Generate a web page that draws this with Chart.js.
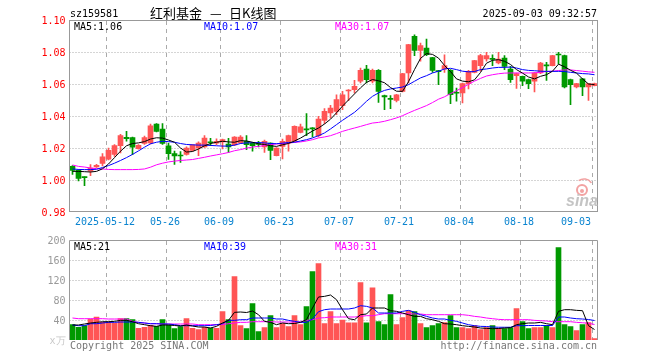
<!DOCTYPE html>
<html>
<head>
<meta charset="utf-8">
<script src="https://cdn.jsdelivr.net/npm/chart.js@4.4.0/dist/chart.umd.min.js"></script>
<style>
  html, body { margin: 0; padding: 0; background: #fff; }
  #wrap { position: relative; width: 660px; height: 360px; }
  #wrap canvas { position: absolute; left: 0; top: 0; }
</style>
</head>
<body>
<div id="wrap">
  <canvas id="kline" width="660" height="360"></canvas>
  <canvas id="vol" width="660" height="360"></canvas>
</div>
<script>
const dates = [
  '2025-04-29','2025-04-30','2025-05-06','2025-05-07','2025-05-08','2025-05-09','2025-05-12','2025-05-13','2025-05-14','2025-05-15',
  '2025-05-16','2025-05-19','2025-05-20','2025-05-21','2025-05-22','2025-05-23','2025-05-26','2025-05-27','2025-05-28','2025-05-29',
  '2025-05-30','2025-06-03','2025-06-04','2025-06-05','2025-06-06','2025-06-09','2025-06-10','2025-06-11','2025-06-12','2025-06-13',
  '2025-06-16','2025-06-17','2025-06-18','2025-06-19','2025-06-20','2025-06-23','2025-06-24','2025-06-25','2025-06-26','2025-06-27',
  '2025-06-30','2025-07-01','2025-07-02','2025-07-03','2025-07-04','2025-07-07','2025-07-08','2025-07-09','2025-07-10','2025-07-11',
  '2025-07-14','2025-07-15','2025-07-16','2025-07-17','2025-07-18','2025-07-21','2025-07-22','2025-07-23','2025-07-24','2025-07-25',
  '2025-07-28','2025-07-29','2025-07-30','2025-07-31','2025-08-01','2025-08-04','2025-08-05','2025-08-06','2025-08-07','2025-08-08',
  '2025-08-11','2025-08-12','2025-08-13','2025-08-14','2025-08-15','2025-08-18','2025-08-19','2025-08-20','2025-08-21','2025-08-22',
  '2025-08-25','2025-08-26','2025-08-27','2025-08-28','2025-08-29','2025-09-01','2025-09-02','2025-09-03'
];

const open = [
  1.0085,1.0060,1.0018,1.0055,1.0082,1.0103,1.0130,1.0160,1.0215,1.0266,
  1.0265,1.0196,1.0228,1.0232,1.0350,1.0318,1.0214,1.0165,1.0155,1.0160,
  1.0185,1.0200,1.0206,1.0238,1.0230,1.0238,1.0225,1.0220,1.0231,1.0241,
  1.0230,1.0226,1.0206,1.0230,1.0152,1.0210,1.0231,1.0242,1.0298,1.0317,
  1.0325,1.0277,1.0373,1.0420,1.0429,1.0465,1.0556,1.0565,1.0617,1.0694,
  1.0617,1.0685,1.0527,1.0508,1.0498,1.0554,1.0669,1.0898,1.0810,1.0825,
  1.0765,1.0680,1.0694,1.0685,1.0546,1.0544,1.0602,1.0673,1.0715,1.0756,
  1.0758,1.0731,1.0762,1.0694,1.0652,1.0648,1.0627,1.0617,1.0669,1.0717,
  1.0715,1.0785,1.0777,1.0627,1.0581,1.0633,1.0581,1.0590
];
const high = [
  1.0090,1.0065,1.0020,1.0096,1.0098,1.0165,1.0200,1.0222,1.0285,1.0304,
  1.0268,1.0222,1.0275,1.0350,1.0352,1.0352,1.0230,1.0180,1.0178,1.0207,
  1.0222,1.0238,1.0277,1.0260,1.0258,1.0255,1.0260,1.0272,1.0277,1.0277,
  1.0235,1.0242,1.0250,1.0233,1.0202,1.0256,1.0280,1.0338,1.0350,1.0415,
  1.0327,1.0398,1.0446,1.0467,1.0533,1.0554,1.0565,1.0623,1.0700,1.0717,
  1.0694,1.0690,1.0531,1.0527,1.0535,1.0667,1.0848,1.0908,1.0856,1.0881,
  1.0767,1.0685,1.0783,1.0690,1.0575,1.0606,1.0685,1.0748,1.0785,1.0798,
  1.0783,1.0798,1.0777,1.0710,1.0669,1.0650,1.0630,1.0671,1.0735,1.0735,
  1.0779,1.0798,1.0780,1.0630,1.0604,1.0635,1.0604,1.0605
];
const low = [
  1.0035,0.9994,0.9965,1.0027,1.0078,1.0088,1.0125,1.0148,1.0170,1.0243,
  1.0158,1.0193,1.0222,1.0225,1.0300,1.0222,1.0128,1.0098,1.0110,1.0155,
  1.0180,1.0152,1.0203,1.0215,1.0221,1.0194,1.0173,1.0215,1.0228,1.0190,
  1.0180,1.0206,1.0173,1.0127,1.0150,1.0131,1.0180,1.0240,1.0295,1.0277,
  1.0269,1.0270,1.0352,1.0388,1.0408,1.0440,1.0496,1.0544,1.0606,1.0606,
  1.0606,1.0485,1.0440,1.0446,1.0488,1.0550,1.0606,1.0777,1.0742,1.0777,
  1.0673,1.0596,1.0673,1.0477,1.0492,1.0481,1.0569,1.0670,1.0680,1.0742,
  1.0715,1.0725,1.0690,1.0610,1.0573,1.0590,1.0571,1.0550,1.0665,1.0623,
  1.0713,1.0725,1.0575,1.0471,1.0575,1.0527,1.0498,1.0588
];
const close = [
  1.0060,1.0010,1.0015,1.0075,1.0092,1.0145,1.0185,1.0215,1.0278,1.0258,
  1.0205,1.0217,1.0265,1.0338,1.0304,1.0228,1.0165,1.0150,1.0150,1.0200,
  1.0220,1.0230,1.0262,1.0233,1.0241,1.0252,1.0207,1.0268,1.0268,1.0221,
  1.0215,1.0222,1.0242,1.0185,1.0200,1.0242,1.0277,1.0335,1.0333,1.0313,
  1.0320,1.0380,1.0429,1.0450,1.0502,1.0533,1.0560,1.0585,1.0685,1.0627,
  1.0685,1.0554,1.0520,1.0504,1.0533,1.0665,1.0846,1.0810,1.0840,1.0783,
  1.0685,1.0677,1.0715,1.0533,1.0542,1.0602,1.0679,1.0746,1.0777,1.0777,
  1.0754,1.0756,1.0710,1.0627,1.0665,1.0617,1.0602,1.0669,1.0731,1.0713,
  1.0777,1.0781,1.0581,1.0596,1.0602,1.0581,1.0602,1.0602
];
const ma5 = [
  1.0054,1.0054,1.0052,1.0050,1.0054,1.0070,1.0100,1.0140,1.0180,1.0214,
  1.0228,1.0232,1.0240,1.0256,1.0264,1.0262,1.0250,1.0236,1.0200,1.0175,
  1.0178,1.0194,1.0214,1.0228,1.0236,1.0242,1.0238,1.0236,1.0246,1.0244,
  1.0236,1.0226,1.0222,1.0214,1.0210,1.0220,1.0228,1.0244,1.0262,1.0284,
  1.0306,1.0325,1.0350,1.0380,1.0420,1.0462,1.0500,1.0538,1.0576,1.0610,
  1.0628,1.0620,1.0608,1.0578,1.0555,1.0554,1.0614,1.0690,1.0760,1.0790,
  1.0785,1.0762,1.0716,1.0678,1.0632,1.0618,1.0614,1.0626,1.0672,1.0730,
  1.0748,1.0752,1.0742,1.0722,1.0690,1.0668,1.0644,1.0632,1.0648,1.0658,
  1.0680,1.0724,1.0708,1.0686,1.0668,1.0632,1.0600,1.0596
];
const ma10 = [
  1.0069,1.0066,1.0065,1.0065,1.0067,1.0078,1.0090,1.0105,1.0122,1.0140,
  1.0160,1.0182,1.0205,1.0226,1.0236,1.0242,1.0240,1.0236,1.0228,1.0222,
  1.0220,1.0218,1.0218,1.0216,1.0214,1.0212,1.0212,1.0218,1.0228,1.0232,
  1.0233,1.0234,1.0232,1.0228,1.0227,1.0230,1.0234,1.0236,1.0244,1.0252,
  1.0263,1.0277,1.0294,1.0319,1.0346,1.0373,1.0398,1.0423,1.0456,1.0492,
  1.0523,1.0544,1.0560,1.0569,1.0575,1.0581,1.0596,1.0617,1.0638,1.0652,
  1.0669,1.0680,1.0694,1.0698,1.0690,1.0680,1.0676,1.0678,1.0690,1.0694,
  1.0700,1.0704,1.0704,1.0706,1.0700,1.0690,1.0685,1.0683,1.0680,1.0679,
  1.0679,1.0679,1.0678,1.0673,1.0669,1.0665,1.0663,1.0658
];
const ma30 = [
  1.0094,1.0085,1.0081,1.0075,1.0071,1.0069,1.0066,1.0065,1.0065,1.0065,
  1.0065,1.0066,1.0069,1.0080,1.0095,1.0105,1.0113,1.0118,1.0122,1.0125,
  1.0128,1.0135,1.0142,1.0150,1.0157,1.0164,1.0172,1.0183,1.0190,1.0199,
  1.0206,1.0210,1.0215,1.0221,1.0225,1.0228,1.0231,1.0235,1.0238,1.0244,
  1.0252,1.0263,1.0269,1.0277,1.0290,1.0304,1.0315,1.0325,1.0335,1.0346,
  1.0356,1.0360,1.0367,1.0377,1.0388,1.0402,1.0419,1.0435,1.0450,1.0465,
  1.0484,1.0505,1.0520,1.0540,1.0558,1.0578,1.0598,1.0618,1.0635,1.0650,
  1.0658,1.0664,1.0668,1.0669,1.0669,1.0669,1.0669,1.0670,1.0673,1.0678,
  1.0680,1.0684,1.0688,1.0688,1.0684,1.0680,1.0676,1.0673
];
// volume in 万手
const volume = [
  30.6,25.3,28.6,42,46,35.3,36,34,42.6,42.6,
  40.6,23.3,25.3,29.3,27.3,40.6,30,22.6,26.6,42.6,
  23.3,20.6,25.3,24,23.3,56.6,40.6,126.6,28.6,22.6,
  72.6,16.6,24.6,48.6,24.6,33,27,48.6,30.6,67,
  137,152.6,32.6,56.6,32.6,40,34.3,34.3,114.6,34.3,
  104.3,36.6,30.6,90.6,30.6,44.6,58.6,56.6,32.6,24.6,
  28.6,32.6,34.6,48.6,24.6,24.6,22.6,28.6,20.6,24.6,
  28.6,22.6,22.6,24.6,62.6,36.6,22.6,24.6,24.6,28.6,
  24.6,184.6,30.6,26.6,18.6,30.6,34.6,2.6
];
const vma5 = [
  30,30,32,34,35.3,36.6,36.6,37.3,39.3,39.3,
  36.6,32.6,30.6,28.6,27.3,30,30,29,28,30,
  28,26,26,24,27.3,34,39.3,55.3,56,55,
  58,50.6,37.3,35.3,30.6,34,32.6,33,35.3,40.6,
  64,86,87.3,90,80.6,60.6,42.6,40.6,50.6,52,
  64,64,64,58.6,57.3,54,50.6,47.3,47.3,42.6,
  40.6,37.3,32.6,32,30.6,28.6,27.3,26,24,23.3,
  22.6,23,24,24.6,30.6,32.6,34,34,35.3,32.6,
  30.6,57.3,60.6,60.6,59.3,58.6,28.6,21
];
const vma10 = [
  30,28.6,28.6,32.6,32.6,34,35.3,35.3,36,36,
  36,35.3,34,32.6,32.6,32,32,30.6,28.6,28.6,
  28.6,28.6,28.6,29,30.6,32.6,39.3,39.3,40.6,40.6,
  44,44,44,44,42,42,39.3,37.3,35.3,35.3,
  42,56.6,60.6,62,62,62,62,64,68.6,67.3,
  64,54,54,54,54,57.3,59.3,55.3,50.6,47.3,
  44,42,42,39.3,37.3,34,30.6,28.6,27.3,27,
  26,25.5,25.5,25.5,28.6,28.6,29,29,29,29,
  29,46,46,44,42.6,42,41,39
];
const vma30 = [
  44,42.6,42.6,42.6,42.6,42.6,42,42,42,42,
  37.3,35.3,34,32.6,32.6,32,32,32,32,32,
  32,30.6,30.6,30.6,30.6,31,32.6,34,35.3,35.3,
  36.6,36.6,36.6,36.6,36,36,36,36,36.6,39.3,
  40.6,44,44.6,46,46,46,46,46,47.3,48.6,
  48.6,50.6,52.6,52.6,52.6,52.6,52.6,52,52,50.6,
  50.6,50.6,50.6,50.6,50.6,50.6,49.3,47.3,46,44,
  42.6,41.3,40.6,40.6,40.6,40.6,40.6,39.3,38.6,38,
  36.6,36.6,36.6,36.6,35.3,34.5,33.5,31
];

const priceTicks = [1.10, 1.08, 1.06, 1.04, 1.02, 1.00, 0.98];
const volTicks = [200, 160, 120, 80, 40, 0];
const dateTicks = ['2025-05-12','2025-05-26','2025-06-09','2025-06-23','2025-07-07','2025-07-21','2025-08-04','2025-08-18','2025-09-03'];
const dateTickLabels = ['2025-05-12','05-26','06-09','06-23','07-07','07-21','08-04','08-18','09-03'];

const MONO = '"DejaVu Sans Mono", monospace';
const CJK = '"Noto Sans CJK SC", sans-serif';
const RED = '#ff5555', GREEN = '#009900';
const candleColor = close.map((c, i) => c >= open[i] ? RED : GREEN);

// vertical dashed lines sit on the left edge of the marked day's bar
function drawGrid(chart, hLines) {
    const { ctx, chartArea: a, scales } = chart;
    ctx.save();
    ctx.lineWidth = 1;
    ctx.strokeStyle = '#aaa';
    ctx.setLineDash([1, 2]);
    hLines.forEach(v => {
        const py = Math.round(scales.y.getPixelForValue(v)) + 0.5;
        ctx.beginPath(); ctx.moveTo(a.left, py); ctx.lineTo(a.right, py); ctx.stroke();
    });
    ctx.setLineDash([4, 4]);
    dateTicks.forEach(d => {
        const px = Math.floor(scales.x.getPixelForValue(dates.indexOf(d)) - 2.5) + 0.5;
        ctx.beginPath(); ctx.moveTo(px, a.top + 1); ctx.lineTo(px, a.bottom); ctx.stroke();
    });
    ctx.restore();
}

function text(ctx, s, x, y, color, font, align) {
    ctx.font = font;
    ctx.fillStyle = color;
    ctx.textAlign = align || 'left';
    ctx.fillText(s, x, y);
}

const kFrame = {
    id: 'kFrame',
    beforeDatasetsDraw(chart) {
        drawGrid(chart, [1.08, 1.06, 1.04, 1.02, 1.00]);
    },
    afterDraw(chart) {
        const { ctx, scales } = chart;
        ctx.save();
        ctx.strokeStyle = '#999';
        ctx.lineWidth = 1;
        ctx.strokeRect(69.5, 20.5, 528, 191);

        ctx.textBaseline = 'alphabetic';
        const f10 = '10px ' + MONO;
        text(ctx, 'sz159581', 70, 17, '#000', f10);
        text(ctx, '红利基金', 150, 18, '#000', '13px ' + CJK);
        text(ctx, '—', 210, 18, '#000', '13px ' + CJK);
        text(ctx, '日K线图', 229, 18, '#000', '13px ' + CJK);
        text(ctx, '2025-09-03 09:32:57', 597, 17, '#000', f10, 'right');

        const n = dates.length - 1;
        text(ctx, 'MA5:' + ma5[n].toFixed(2), 74, 30, '#000', f10);
        text(ctx, 'MA10:' + ma10[n].toFixed(2), 204, 30, '#0000ff', f10);
        text(ctx, 'MA30:' + ma30[n].toFixed(2), 335, 30, '#ff00ff', f10);

        // date labels under the price panel
        ctx.textBaseline = 'middle';
        ctx.font = f10;
        dateTicks.forEach((d, k) => {
            const lab = dateTickLabels[k];
            const w = ctx.measureText(lab).width;
            let cx = Math.floor(scales.x.getPixelForValue(dates.indexOf(d)) - 2.5) - 1;
            cx = Math.min(cx, 591 - w / 2);
            text(ctx, lab, cx, 222, '#0a84d0', f10, 'center');
        });

        // sina watermark
        ctx.textBaseline = 'alphabetic';
        ctx.strokeStyle = '#f2a2a2';
        ctx.lineWidth = 2;
        ctx.beginPath(); ctx.arc(582, 190, 5, 0, Math.PI * 2); ctx.stroke();
        ctx.fillStyle = '#f2a2a2';
        ctx.beginPath(); ctx.arc(582, 191, 2, 0, Math.PI * 2); ctx.fill();
        ctx.lineWidth = 1.5;
        ctx.beginPath(); ctx.arc(584, 188, 9, -2.2, -0.6); ctx.stroke();
        text(ctx, 'sina', 566, 206, '#c4c4c4', 'italic bold 16px "Liberation Sans", sans-serif');
        ctx.restore();
    }
};

const vFrame = {
    id: 'vFrame',
    beforeDatasetsDraw(chart) {
        drawGrid(chart, [160, 120, 80, 40]);
    },
    afterDraw(chart) {
        const { ctx } = chart;
        ctx.save();
        ctx.strokeStyle = '#999';
        ctx.lineWidth = 1;
        ctx.beginPath();
        ctx.moveTo(69.5, 340); ctx.lineTo(69.5, 240.5); ctx.lineTo(597.5, 240.5); ctx.lineTo(597.5, 340);
        ctx.stroke();
        const f10 = '10px ' + MONO;
        ctx.textBaseline = 'alphabetic';
        const n = dates.length - 1;
        text(ctx, 'MA5:' + Math.round(vma5[n]), 74, 250, '#000', f10);
        text(ctx, 'MA10:' + Math.round(vma10[n]), 204, 250, '#0000ff', f10);
        text(ctx, 'MA30:' + Math.round(vma30[n]), 335, 250, '#ff00ff', f10);
        text(ctx, 'Copyright 2025 SINA.COM', 70, 349, '#777', f10);
        text(ctx, 'http://finance.sina.com.cn', 597, 349, '#777', f10, 'right');
        ctx.restore();
    }
};

function lineSet(label, data, color, order) {
    return { type: 'line', label, data, borderColor: color, borderWidth: 1, pointRadius: 0, tension: 0, order };
}

const common = {
    responsive: false,
    animation: false,
    devicePixelRatio: 1,
    events: [],
    plugins: { legend: { display: false }, tooltip: { enabled: false } }
};

new Chart(document.getElementById('kline'), {
    type: 'bar',
    data: {
        labels: dates,
        datasets: [
            lineSet('MA5', ma5, '#000000', 0),
            lineSet('MA10', ma10, '#0000ff', 1),
            lineSet('MA30', ma30, '#ff00ff', 2),
            { label: 'body', data: dates.map((d, i) => [open[i], close[i]]), backgroundColor: candleColor,
              barThickness: 5, minBarLength: 1, grouped: false, order: 3 },
            { label: 'wick', data: dates.map((d, i) => [low[i], high[i]]), backgroundColor: candleColor,
              barThickness: 1, grouped: false, order: 4 }
        ]
    },
    options: {
        ...common,
        layout: { padding: { top: 20, right: 62.5, bottom: 148, left: 0 } },
        scales: {
            x: { display: false, offset: true },
            y: {
                min: 0.98, max: 1.10,
                grid: { display: false, drawTicks: false },
                border: { display: false },
                afterBuildTicks: s => { s.ticks = priceTicks.map(v => ({ value: v })); },
                afterFit: s => { s.width = 69.5; },
                ticks: { color: '#ff0000', padding: 4, labelOffset: 1, font: { family: MONO, size: 10 },
                         callback: v => v.toFixed(2) }
            }
        }
    },
    plugins: [kFrame]
});

new Chart(document.getElementById('vol'), {
    type: 'bar',
    data: {
        labels: dates,
        datasets: [
            lineSet('MA5', vma5, '#000000', 0),
            lineSet('MA10', vma10, '#0000ff', 1),
            lineSet('MA30', vma30, '#ff00ff', 2),
            { label: 'volume', data: volume, backgroundColor: candleColor, barThickness: 5, grouped: false, order: 3 }
        ]
    },
    options: {
        ...common,
        layout: { padding: { top: 240, right: 62.5, bottom: 20, left: 0 } },
        scales: {
            x: { display: false, offset: true },
            y: {
                min: 0, max: 200,
                grid: { display: false, drawTicks: false },
                border: { display: false },
                afterBuildTicks: s => { s.ticks = volTicks.map(v => ({ value: v })); },
                afterFit: s => { s.width = 69.5; },
                ticks: {
                    color: c => (c.tick && c.tick.value === 0) ? '#c8c8c8' : '#999',
                    padding: 4, labelOffset: 1, font: { family: MONO, size: 10 },
                    callback: v => v === 0 ? 'x万' : String(v)
                }
            }
        }
    },
    plugins: [vFrame]
});
</script>
</body>
</html>
